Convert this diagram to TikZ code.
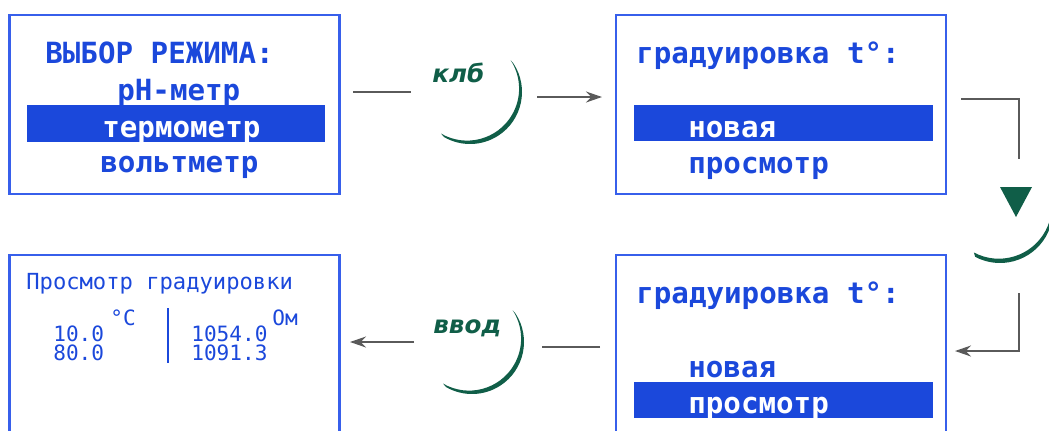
\documentclass[tikz,border=0pt]{standalone}
\usepackage{fontspec}
\setmainfont{DejaVu Sans}
\newfontfamily\lcdfont{DejaVu Sans Mono}
\newfontfamily\knobfont{DejaVu Sans}
\usetikzlibrary{arrows.meta}
\definecolor{scrblue}{RGB}{27,72,219}
\definecolor{frameblue}{RGB}{55,95,235}
\definecolor{knobgreen}{RGB}{16,94,72}
\definecolor{wiregray}{RGB}{90,90,90}
\tikzset{
  screen/.style={draw=frameblue,line width=1.4pt,minimum width=66mm,inner sep=0},
  bar/.style={fill=scrblue,minimum width=59.7mm,minimum height=7.3mm,inner sep=0},
  bigtxt/.style={anchor=base west,inner sep=0,text=scrblue,font=\lcdfont\bfseries\fontsize{16.6}{18}\selectfont},
  smalltxt/.style={anchor=base west,inner sep=0,text=scrblue,font=\lcdfont\fontsize{12.6}{14}\selectfont},
  digits/.style={smalltxt,font=\lcdfont\fontsize{12}{13}\selectfont},
  knobtxt/.style={anchor=base west,inner sep=0,text=knobgreen,font=\knobfont\bfseries\itshape\fontsize{14}{16}\selectfont},
  wire/.style={draw=wiregray,line width=0.9pt},
  wirearrow/.style={wire,-{Stealth[length=3.2mm,width=2.2mm]}},
  knob/.style={fill=knobgreen}
}
\begin{document}
\begin{tikzpicture}[x=0.2mm,y=-0.2mm]
  \useasboundingbox (0,0) rectangle (1049,430);

  % mode selection
  \node[screen,minimum height=35.8mm] (mode) at (174.5,104.5) {};
  \node[bar] (modebar) at (176,123.5) {};
  \node[bigtxt] (modetitle) at (45,63) {ВЫБОР РЕЖИМА:};
  \node[bigtxt] (ph) at (117,100) {рН-метр};
  \node[bigtxt,text=white] (thermo) at (102,137) {термометр};
  \node[bigtxt] (volt) at (100,172) {вольтметр};

  % calibration menu, first item
  \node[screen,minimum height=35.8mm] (calnew) at (781,104.5) {};
  \node[bar] (calnewbar) at (783.5,123) {};
  \node[bigtxt] (calnewtitle) at (636,63) {градуировка t°:};
  \node[bigtxt,text=white] (newa) at (688,137) {новая};
  \node[bigtxt] (viewa) at (688,173) {просмотр};

  % calibration menu, second item
  \node[screen,minimum height=38mm] (calview) at (781,350) {};
  \node[bar] (calviewbar) at (783.5,400) {};
  \node[bigtxt] (calviewtitle) at (636,303) {градуировка t°:};
  \node[bigtxt] (newb) at (688,377) {новая};
  \node[bigtxt,text=white] (viewb) at (688,413) {просмотр};

  % calibration table
  \node[screen,minimum height=38mm] (table) at (174.5,350) {};
  \node[smalltxt] (tabletitle) at (26,289) {Просмотр градуировки};
  \node[digits] (degc) at (110,325) {°C};
  \node[digits] (ohm) at (272,325) {Ом};
  \node[digits] (ta) at (53,341) {10.0};
  \node[digits] (tb) at (53,360) {80.0};
  \node[digits] (ra) at (191,341) {1054.0};
  \node[digits] (rb) at (191,360) {1091.3};
  \coordinate (septop) at (168,308);
  \coordinate (sepbot) at (168,363);
  \draw[scrblue,line width=1.1pt] (septop) -- (sepbot);

  % key "клб"
  \coordinate (klbin) at (353,92);
  \coordinate (klbend) at (411,92);
  \coordinate (klbout) at (537,97);
  \coordinate (klbtip) at (602,97);
  \draw[wire] (klbin) -- (klbend);
  \draw[wirearrow] (klbout) -- (klbtip);
  \fill[knob] (470,92) ++(-33:52) arc[start angle=-33,end angle=120,radius=52]
    -- ([shift={(467.1,88.6)}]120:52) arc[start angle=120,end angle=-33,radius=52] -- cycle;
  \node[knobtxt] (klb) at (432,82) {клб};

  % key "вниз"
  \coordinate (downin) at (961,99);
  \coordinate (downend) at (1019,159);
  \coordinate (downout) at (1019,293);
  \coordinate (downtip) at (955,351);
  \draw[wire] (downin) -| (downend);
  \draw[wirearrow] (downout) |- (downtip);
  \fill[knob] (1000,187) -- (1032,187) -- (1016,217) -- cycle;
  \fill[knob] (1000,210) ++(-15:53) arc[start angle=-15,end angle=118,radius=53]
    -- ([shift={(998.8,205.7)}]118:53) arc[start angle=118,end angle=-15,radius=53] -- cycle;

  % key "ввод"
  \coordinate (enterin) at (600,347);
  \coordinate (enterend) at (542,347);
  \coordinate (enterout) at (414,342);
  \coordinate (entertip) at (350,342);
  \draw[wire] (enterin) -- (enterend);
  \draw[wirearrow] (enterout) -- (entertip);
  \fill[knob] (472,342) ++(-33:52) arc[start angle=-33,end angle=120,radius=52]
    -- ([shift={(469.1,338.6)}]120:52) arc[start angle=120,end angle=-33,radius=52] -- cycle;
  \node[knobtxt] (enter) at (433,333) {ввод};
\end{tikzpicture}
\end{document}
